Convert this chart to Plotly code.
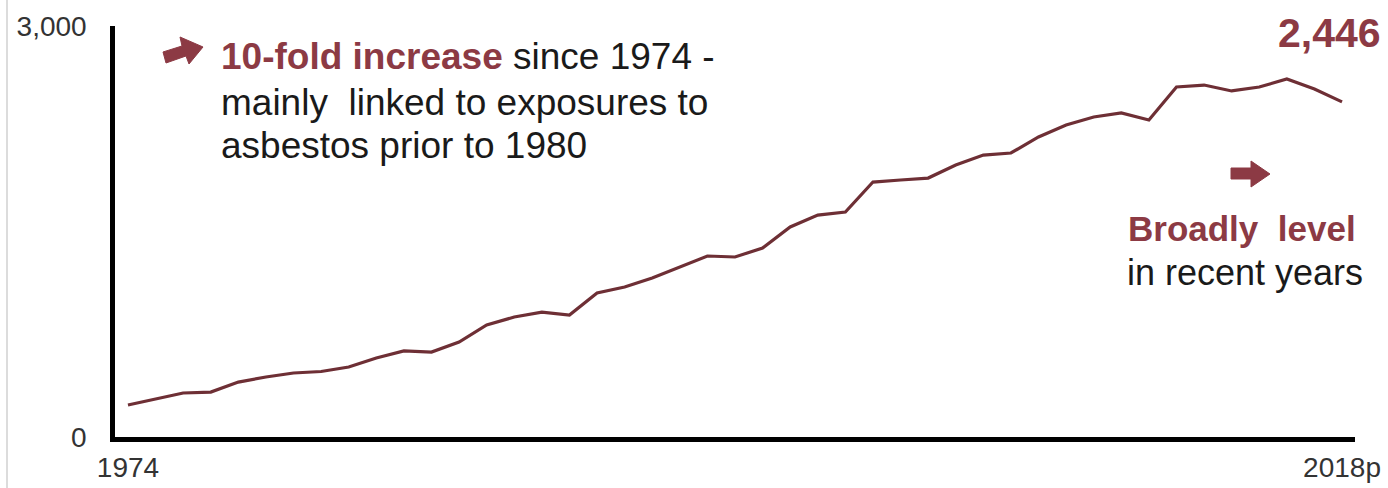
import plotly.graph_objects as go

years = list(range(1974, 2019))
deaths = [234, 278, 321, 328, 401, 438, 467, 478, 511, 577,
          628, 620, 693, 818, 876, 912, 890, 1051, 1095, 1160,
          1241, 1321, 1314, 1380, 1533, 1620, 1642, 1861, 1876, 1890,
          1985, 2058, 2073, 2190, 2277, 2336, 2365, 2314, 2555, 2569,
          2526, 2555, 2613, 2540, 2446]
tick_years = [1974, 2018]
tick_labels = ["1974", "2018p"]
y_ticks = [0, 3000]
y_tick_labels = ["0", "3,000"]

W, H = 1388, 488
ML, MR, MT, MB = 115, 33, 26, 51
PW, PH = W - ML - MR, H - MT - MB

def px(x):
    return (x - ML) / PW

def py(y):
    return (H - MB - y) / PH

MAROON = "#8C3A44"
LINE = "#6E2F35"
TXT = "#1a1a1a"
FONT = "Liberation Sans, Arial, sans-serif"

fig = go.Figure()
fig.add_trace(go.Scatter(x=years, y=deaths, mode="lines",
                         line=dict(color=LINE, width=3.2),
                         hoverinfo="x+y", showlegend=False))

ann = []
def text(x, y, s, size, color, xanchor="left", family=FONT):
    ann.append(dict(xref="paper", yref="paper", x=px(x), y=py(y), text=s,
                    showarrow=False, xanchor=xanchor, yanchor="middle",
                    font=dict(size=size, color=color, family=family)))

text(219, 56, "<b><span style='color:%s'>10-fold increase</span></b> since 1974 -" % MAROON, 37, TXT)
text(219, 102, "mainly  linked to exposures to", 37, TXT)
text(219, 145, "asbestos prior to 1980", 37, TXT)
text(1242, 229, "<b>Broadly  level</b>", 35, MAROON, xanchor="center")
text(1245, 272, "in recent years", 36, TXT, xanchor="center")
text(1383, 33, "<b>2,446</b>", 41, MAROON, xanchor="right")

def poly(pts):
    d = "M " + " L ".join("%.5f,%.5f" % (px(a), py(b)) for a, b in pts) + " Z"
    return dict(type="path", xref="paper", yref="paper", path=d,
                fillcolor=MAROON, line=dict(color=MAROON, width=1))

arrow1 = [(163, 52), (182, 46), (180, 37), (203, 47), (189, 64), (186, 56), (166, 63)]
arrow2 = [(1231, 168), (1251, 168), (1251, 161), (1270, 174), (1251, 187), (1251, 179), (1231, 179)]

fig.update_layout(
    width=W, height=H,
    margin=dict(l=ML, r=MR, t=MT, b=MB, pad=0, autoexpand=False),
    paper_bgcolor="white", plot_bgcolor="white",
    annotations=ann,
    shapes=[dict(type="line", xref="paper", yref="paper",
                 x0=px(7), x1=px(7), y0=py(0), y1=py(H),
                 line=dict(color="#d0d0d0", width=1.5)),
            poly(arrow1), poly(arrow2)],
    xaxis=dict(range=[1973.53, 2018.47], showgrid=False, zeroline=False,
               showline=True, linecolor="black", linewidth=4.5,
               tickvals=tick_years, ticktext=tick_labels, ticks="",
               tickfont=dict(size=28, color="#333333", family=FONT),
               ticklabelstandoff=2, automargin=False),
    yaxis=dict(range=[0, 3000], showgrid=False, zeroline=False,
               showline=True, linecolor="black", linewidth=4.5,
               tickvals=y_ticks, ticktext=y_tick_labels, ticks="",
               tickfont=dict(size=28, color="#333333", family=FONT),
               ticklabelstandoff=18, automargin=False),
)

fig.write_html("out.html")
